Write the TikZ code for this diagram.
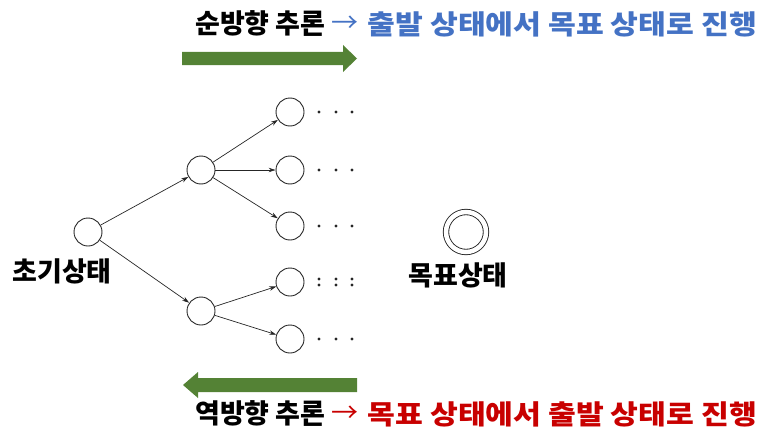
\documentclass[tikz,border=0pt]{standalone}
\usepackage{fontspec}
\setmainfont{Noto Sans CJK KR}
\usetikzlibrary{arrows.meta}
\definecolor{arrowgreen}{RGB}{84,130,53}
\definecolor{textblue}{RGB}{68,114,196}
\definecolor{textred}{RGB}{200,0,0}
\begin{document}
\begin{tikzpicture}[x=1pt,y=-1pt,
  state/.style={circle,draw=black!85,line width=0.9pt,minimum size=28pt,inner sep=0pt},
  goalstate/.style={circle,draw=black!85,line width=0.9pt,double,double distance=4.5pt,minimum size=40pt,inner sep=0pt},
  edge/.style={draw=black!85,line width=0.7pt,-{Stealth[length=7pt,width=4.5pt]}},
  lbl/.style={font=\fontsize{27}{27}\selectfont\bfseries,inner sep=0pt},
  title/.style={font=\fontsize{27}{27}\selectfont\bfseries,inner sep=0pt},
  tarrow/.style={font=\fontsize{27}{27}\selectfont,inner sep=0pt},
  dotmark/.style={circle,fill=black!85,inner sep=0pt,minimum size=3.2pt},
  bigarrow/.style={fill=arrowgreen}]
\useasboundingbox (0,0) rectangle (762,436);

% titles
\node[title,anchor=west] (fwd) at (195,24) {순방향 추론};
\node[tarrow,text=textblue] (fwdarrow) at (345,24) {→};
\node[title,anchor=east,text=textblue] (fwdtext) at (757,24) {\resizebox{389pt}{\height}{출발 상태에서 목표 상태로 진행}};
\node[title,anchor=west] (bwd) at (195,414) {역방향 추론};
\node[tarrow,text=textred] (bwdarrow) at (345,414) {→};
\node[title,anchor=east,text=textred] (bwdtext) at (757,414) {\resizebox{389pt}{\height}{목표 상태에서 출발 상태로 진행}};

% big arrows
\fill[bigarrow] (182,52) -- (343,52) -- (343,45) -- (357,58.5) -- (343,72) -- (343,65) -- (182,65) -- cycle;
\fill[bigarrow] (357,378) -- (198,378) -- (198,372) -- (183,385) -- (198,398) -- (198,392) -- (357,392) -- cycle;

% tree
\node[state] (root) at (88,232) {};
\node[state] (mt) at (201,170) {};
\node[state] (mb) at (201,311) {};
\node[state] (l1) at (290,112) {};
\node[state] (l2) at (290,170) {};
\node[state] (l3) at (290,226) {};
\node[state] (l4) at (290,282) {};
\node[state] (l5) at (290,339) {};

\draw[edge] (root) -- (mt);
\draw[edge] (root) -- (mb);
\draw[edge] (mt) -- (l1);
\draw[edge] (mt) -- (l2);
\draw[edge] (mt) -- (l3);
\draw[edge] (mb) -- (l4);
\draw[edge] (mb) -- (l5);

% dots
\foreach \y/\n in {112/a,170/b,226/c,339/e}{
  \foreach \x/\m in {319/1,336/2,352/3}{
    \node[dotmark] (d\n\m) at (\x,\y) {};
  }
}
\foreach \x/\m in {319/1,336/2,352/3}{
  \node[dotmark] (dd\m u) at (\x,279) {};
  \node[dotmark] (dd\m l) at (\x,285) {};
}

\node[lbl] (rootlbl) at (62,271) {초기상태};

\node[goalstate] (goal) at (466,232) {};
\node[lbl] (goallbl) at (458,275) {목표상태};
\end{tikzpicture}
\end{document}
